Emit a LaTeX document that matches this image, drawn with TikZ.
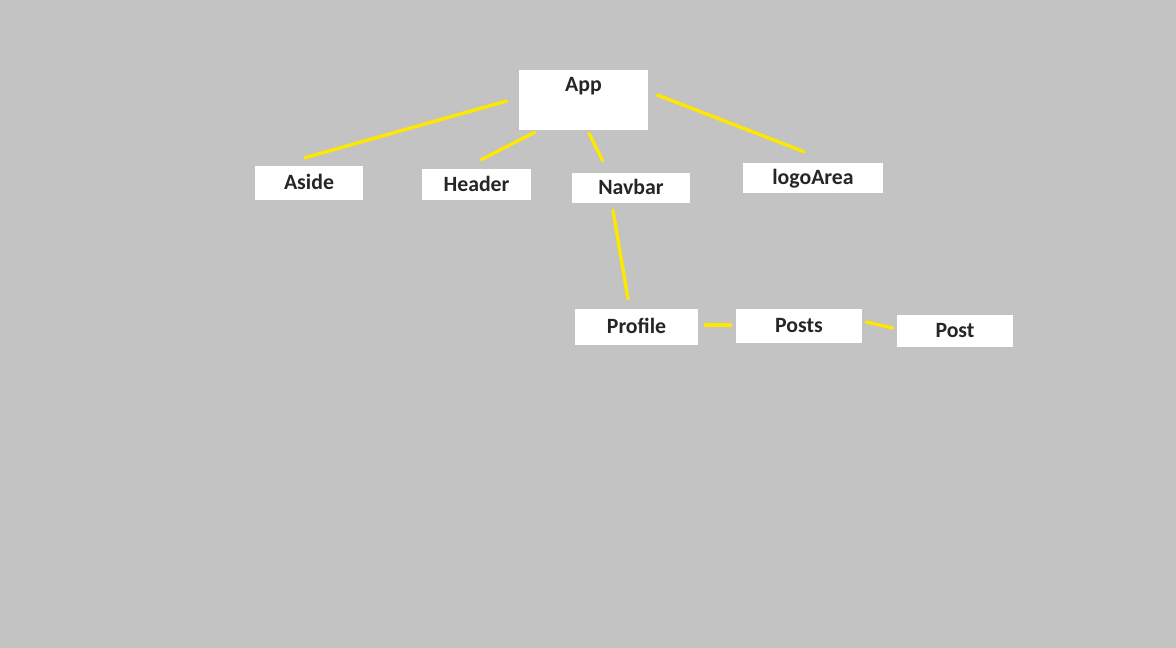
\documentclass[tikz,border=0pt]{standalone}
\usepackage{fontspec}
\setmainfont{Carlito}
\usepackage{tikz}
\definecolor{bggray}{RGB}{195,195,195}
\definecolor{linkyellow}{RGB}{255,232,0}
\definecolor{textdark}{RGB}{38,38,38}
\tikzset{
  compbox/.style={fill=white,inner sep=0pt,text=textdark,
    font=\fontsize{15.5}{18}\selectfont\bfseries,
    text height=0.39cm,text depth=0.06cm},
  link/.style={line width=2.4pt,color=linkyellow}
}

\begin{document}
\begin{tikzpicture}[line cap=round,line join=round,x=0.025cm,y=-0.025cm]
\fill[bggray] (0,0) rectangle (1176,648);
\useasboundingbox (0,0) rectangle (1176,648);
% boxes
\node[compbox,minimum width=3.225cm,minimum height=1.5cm,text height=0.55cm,text depth=0.95cm] (App) at (583.5,100) {App};
\node[compbox,minimum width=2.7cm,minimum height=0.85cm] (Aside) at (309,183) {Aside};
\node[compbox,minimum width=2.725cm,minimum height=0.775cm] (Header) at (476.5,184.5) {Header};
\node[compbox,minimum width=2.95cm,minimum height=0.75cm] (Navbar) at (631,188) {Navbar};
\node[compbox,minimum width=3.5cm,minimum height=0.75cm] (logoArea) at (813,178) {logoArea};
\node[compbox,minimum width=3.075cm,minimum height=0.9cm] (Profile) at (636.5,327) {Profile};
\node[compbox,minimum width=3.15cm,minimum height=0.85cm] (Posts) at (799,326) {Posts};
\node[compbox,minimum width=2.9cm,minimum height=0.8cm] (Post) at (955,331) {Post};
% links
\draw[link] ([shift={(-12,1)}]App.west) -- ([shift={(-4,-8)}]Aside.north);
\draw[link] ([shift={(16,2)}]App.south west) -- ([shift={(4.5,-9)}]Header.north);
\draw[link] ([shift={(5.5,3)}]App.south) -- ([shift={(31,-12)}]Navbar.north west);
\draw[link] ([shift={(9,-5)}]App.east) -- ([shift={(-9,-11)}]logoArea.north);
\draw[link] ([shift={(-18,7)}]Navbar.south) -- ([shift={(-8.5,-10)}]Profile.north);
\draw[link] ([shift={(7,-2)}]Profile.east) -- ([shift={(-5,-1)}]Posts.west);
\draw[link] ([shift={(4,-4)}]Posts.east) -- ([shift={(-4,-3)}]Post.west);
\end{tikzpicture}
\end{document}
